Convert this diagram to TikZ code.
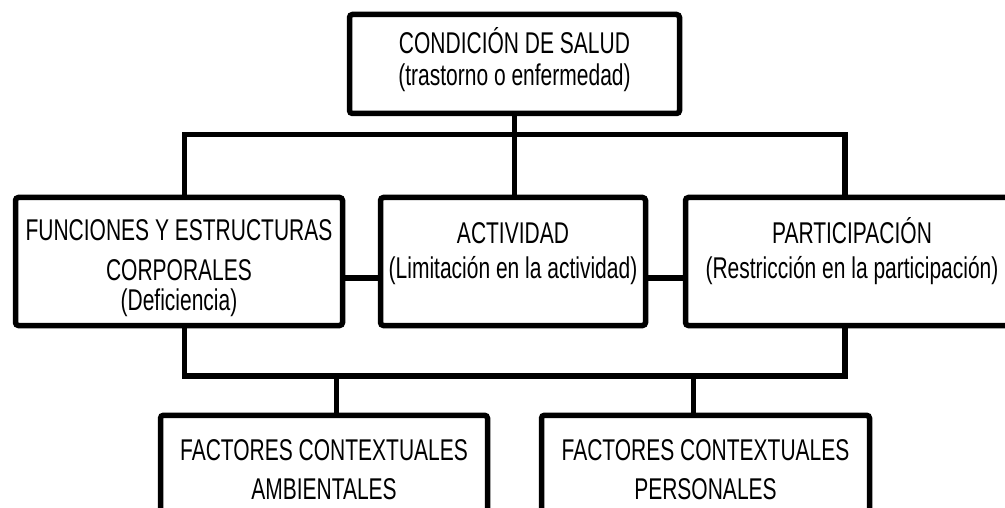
\documentclass[tikz,border=0pt]{standalone}
\usepackage{fontspec}
\setmainfont{Liberation Sans}[FakeStretch=0.70]
\usepackage{tikz}

\begin{document}
\begin{tikzpicture}[x = 1pt, y = -1pt, font = \fontsize{30}{32}\selectfont,
        cbox/.style = {draw, line width = 5.5pt, rounded corners = 3pt, align = center,
            inner sep = 2pt, text depth = 6pt},
        link/.style = {line width = 5.5pt}]
        \useasboundingbox (0,0) rectangle (1005,508);

        \node [cbox, minimum width = 330pt, minimum height = 99pt, text height = 50pt]
            (cond) at (514.5,64) {CONDICIÓN DE SALUD\\(trastorno o enfermedad)};

        \node [cbox, minimum width = 327pt, minimum height = 128pt, text height = 103pt]
            (func) at (179,261.5) {FUNCIONES Y ESTRUCTURAS\\[8pt]CORPORALES\\[-2pt](Deficiencia)};
        \node [cbox, minimum width = 265pt, minimum height = 128pt, text height = 40pt]
            (activ) at (513,261.5) {ACTIVIDAD\\[3pt](Limitación en la actividad)};
        \node [cbox, minimum width = 333pt, minimum height = 128pt, text height = 40pt]
            (partic) at (852,261.5) {PARTICIPACIÓN\\[3pt](Restricción en la participación)};

        \node [cbox, minimum width = 327pt, minimum height = 130pt, text height = 45pt, anchor = north]
            (amb) at (324,412.5) {FACTORES CONTEXTUALES\\[7pt]AMBIENTALES};
        \node [cbox, minimum width = 328pt, minimum height = 130pt, text height = 45pt, anchor = north]
            (pers) at (705.5,412.5) {FACTORES CONTEXTUALES\\[7pt]PERSONALES};

        \coordinate (topbus) at (514.5,134.5);
        \coordinate (botbus) at (514.5,376);

        \draw [link] (cond.south) -- (topbus);
        \draw [link] ([xshift = 5.5pt]func.north) |- (topbus) -| ([xshift = -7pt]partic.north);
        \draw [link] (topbus) -- (topbus |- activ.north);

        \draw [link] ([yshift = -16.5pt]func.east) -- ([yshift = -16.5pt]activ.west);
        \draw [link] ([yshift = -16.5pt]activ.east) -- ([yshift = -16.5pt]partic.west);

        \draw [link] ([xshift = 5.5pt]func.south) |- (botbus) -| ([xshift = -7pt]partic.south);
        \draw [link] ([xshift = 12.5pt]amb.north) -- ([xshift = 12.5pt]amb.north |- botbus);
        \draw [link] ([xshift = -12pt]pers.north) -- ([xshift = -12pt]pers.north |- botbus);
    \end{tikzpicture}
\end{document}
